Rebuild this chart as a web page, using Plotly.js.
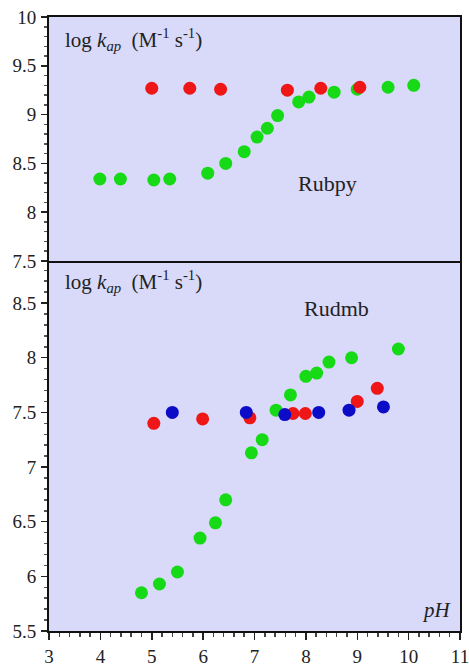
<!DOCTYPE html>
<html><head><meta charset="utf-8">
<script src="https://cdn.plot.ly/plotly-3.0.1.min.js"></script>
<style>html,body{margin:0;padding:0;background:#fff;}#chart{width:469px;height:667px;}</style>
</head><body><div id="chart"></div>
<script>
// Rubpy (top panel)
const rubpyRedX = [5.0, 5.74, 6.34, 7.64, 8.29, 9.05];
const rubpyRedY = [9.27, 9.27, 9.26, 9.25, 9.27, 9.28];
const rubpyGreenX = [3.99, 4.39, 5.04, 5.35, 6.09, 6.44, 6.80, 7.05, 7.25, 7.45, 7.86, 8.06, 8.55, 9.0, 9.60, 10.10];
const rubpyGreenY = [8.34, 8.34, 8.33, 8.34, 8.40, 8.50, 8.62, 8.77, 8.86, 8.99, 9.13, 9.18, 9.23, 9.26, 9.28, 9.30];
// Rudmb (bottom panel)
const rudmbGreenX = [4.80, 5.15, 5.50, 5.94, 6.24, 6.44, 6.94, 7.15, 7.42, 7.70, 8.0, 8.21, 8.45, 8.89, 9.80];
const rudmbGreenY = [5.85, 5.93, 6.04, 6.35, 6.49, 6.70, 7.13, 7.25, 7.52, 7.66, 7.83, 7.86, 7.96, 8.00, 8.08];
const rudmbRedX = [5.04, 5.99, 6.91, 7.75, 7.99, 9.0, 9.39];
const rudmbRedY = [7.40, 7.44, 7.45, 7.49, 7.49, 7.60, 7.72];
const rudmbBlueX = [5.40, 6.84, 7.59, 8.25, 8.84, 9.51];
const rudmbBlueY = [7.50, 7.50, 7.48, 7.50, 7.52, 7.55];

const RED = 'rgb(238,22,22)', GREEN = 'rgb(22,218,22)', BLUE = 'rgb(12,12,200)';
const mk = (c) => ({color: c, size: 13});
const serif = "'Liberation Serif', 'Times New Roman', serif";

const traces = [
  {x: rubpyGreenX, y: rubpyGreenY, xaxis: 'x2', yaxis: 'y2', mode: 'markers', marker: mk(GREEN)},
  {x: rubpyRedX, y: rubpyRedY, xaxis: 'x2', yaxis: 'y2', mode: 'markers', marker: mk(RED)},
  {x: rudmbGreenX, y: rudmbGreenY, xaxis: 'x', yaxis: 'y', mode: 'markers', marker: mk(GREEN)},
  {x: rudmbRedX, y: rudmbRedY, xaxis: 'x', yaxis: 'y', mode: 'markers', marker: mk(RED)},
  {x: rudmbBlueX, y: rudmbBlueY, xaxis: 'x', yaxis: 'y', mode: 'markers', marker: mk(BLUE)}
];

const split = 0.6026;
const tickFont = {family: serif, size: 19, color: '#222'};
const ylab = 'log <i>k</i><sub><i>ap</i></sub>  (M<sup>-1</sup> s<sup>-1</sup>)';
const layout = {
  width: 469, height: 667,
  margin: {l: 49, r: 9, t: 17, b: 36},
  paper_bgcolor: '#ffffff',
  plot_bgcolor: 'rgb(217,217,250)',
  showlegend: false,
  xaxis: {domain: [0, 1], anchor: 'y', range: [3, 11], dtick: 1, tick0: 3,
    ticks: 'outside', ticklen: 7, tickwidth: 1.5, tickcolor: '#222',
    minor: {dtick: 0.2, ticks: 'outside', ticklen: 4, tickcolor: '#444', showgrid: false},
    showgrid: false, zeroline: false, showline: true, linewidth: 2, linecolor: '#111', mirror: false,
    tickfont: tickFont, ticklabeloverflow: 'allow'},
  xaxis2: {domain: [0, 1], anchor: 'y2', matches: 'x', range: [3, 11], showticklabels: false, ticks: '',
    showgrid: false, zeroline: false, showline: true, linewidth: 2, linecolor: '#111', mirror: true},
  yaxis: {domain: [0, split], anchor: 'x', range: [5.5, 8.885], dtick: 0.5, tick0: 5.5,
    ticks: 'outside', ticklen: 6, tickwidth: 1.5, tickcolor: '#222',
    minor: {dtick: 0.1, ticks: 'outside', ticklen: 3, tickcolor: '#555', showgrid: false},
    showgrid: false, zeroline: false, showline: true, linewidth: 2, linecolor: '#111', mirror: true,
    tickfont: tickFont, ticklabelstandoff: 1},
  yaxis2: {domain: [split, 1], anchor: 'x2', range: [7.5, 10], dtick: 0.5, tick0: 7.5,
    ticks: 'outside', ticklen: 6, tickwidth: 1.5, tickcolor: '#222',
    minor: {dtick: 0.1, ticks: 'outside', ticklen: 3, tickcolor: '#555', showgrid: false},
    showgrid: false, zeroline: false, showline: true, linewidth: 2, linecolor: '#111', mirror: true,
    tickfont: tickFont, ticklabelstandoff: 1},
  annotations: [
    {xref: 'x2 domain', yref: 'y2 domain', x: 0.035, y: 0.975, xanchor: 'left', yanchor: 'top',
     text: ylab, showarrow: false, font: {family: serif, size: 21, color: '#222'}},
    {xref: 'x domain', yref: 'y domain', x: 0.035, y: 0.99, xanchor: 'left', yanchor: 'top',
     text: ylab, showarrow: false, font: {family: serif, size: 21, color: '#222'}},
    {xref: 'x2', yref: 'y2', x: 8.42, y: 8.29, text: 'Rubpy', showarrow: false,
     font: {family: serif, size: 22, color: '#222'}},
    {xref: 'x', yref: 'y', x: 8.6, y: 8.45, text: 'Rudmb', showarrow: false,
     font: {family: serif, size: 22, color: '#222'}},
    {xref: 'x domain', yref: 'y domain', x: 0.985, y: 0.02, xanchor: 'right', yanchor: 'bottom',
     text: '<i>pH</i>', showarrow: false, font: {family: serif, size: 21, color: '#222'}}
  ]
};
Plotly.newPlot('chart', traces, layout, {displayModeBar: false, staticPlot: true});
</script></body></html>
